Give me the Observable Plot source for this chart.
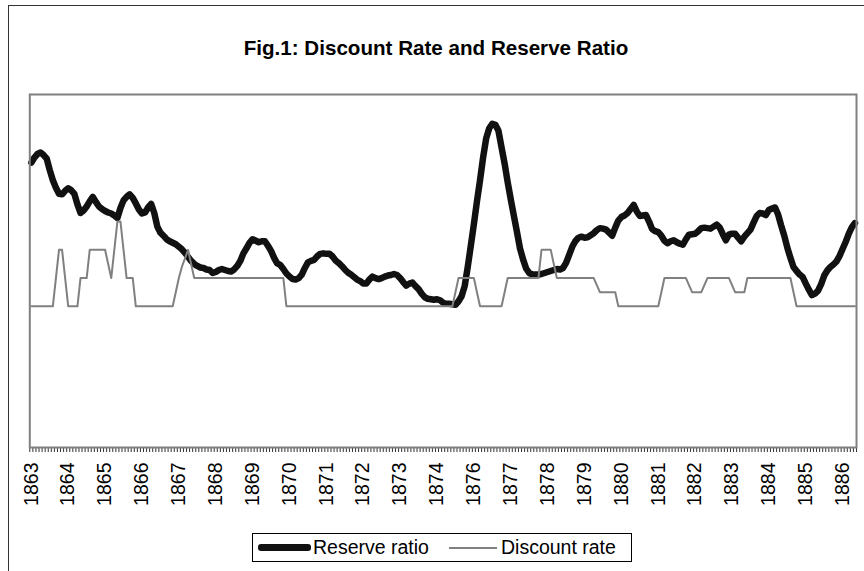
<!DOCTYPE html>
<html>
<head>
<meta charset="utf-8">
<script src="https://cdn.jsdelivr.net/npm/d3@7"></script>
<script src="https://cdn.jsdelivr.net/npm/@observablehq/plot@0.6"></script>
<style>
  html, body { margin: 0; padding: 0; background: #fff; }
  #page { position: relative; width: 864px; height: 571px; overflow: hidden; font-family: "Liberation Sans", Arial, sans-serif; }
  #outer { position: absolute; left: 8px; top: 5px; width: 900px; height: 620px; border: 1px solid #333; box-sizing: border-box; }
  #title { position: absolute; left: 8px; width: 856px; top: 38px; text-align: center; font-weight: bold; font-size: 20.6px; line-height: 20px; color: #000; }
  .layer { position: absolute; left: 0; top: 0; }
  #legend { position: absolute; left: 252px; top: 533px; width: 380px; height: 29px; border: 1px solid #000; box-sizing: border-box; background: #fff; font-size: 19.5px; color: #000; }
  #legend .txt { position: absolute; top: 0; line-height: 27px; white-space: nowrap; }
</style>
</head>
<body>
<div id="page">
  <div id="outer"></div>
  <div id="title">Fig.1: Discount Rate and Reserve Ratio</div>
  <div id="main" class="layer"></div>
  <div id="over" class="layer"></div>
  <div id="legend">
    <div style="position:absolute;left:5px;top:10px;width:53px;height:6.5px;background:#111;border-radius:3px;"></div>
    <div class="txt" style="left:60px;">Reserve ratio</div>
    <div style="position:absolute;left:196px;top:12.5px;width:48px;height:2px;background:#808080;"></div>
    <div class="txt" style="left:248px;">Discount rate</div>
  </div>
</div>
<script>
const yearLabels = ["1863","1864","1865","1866","1867","1868","1869","1870","1871","1872","1873","1874",
  "1876","1877","1878","1879","1880","1881","1882","1883","1884","1885","1886"];
const yearTickIndex = [0,12,24,36,48,60,72,84,96,108,120,132,144,156,168,180,192,204,216,228,240,252,264];

// Reserve ratio (%)
const reserveRatio = [
  56.5,57.5,58.2,58.5,58.0,57.3,55.0,53.0,51.5,50.3,
  50.2,50.9,51.4,51.0,50.3,48.2,46.5,47.0,47.8,48.8,
  49.7,48.7,47.8,47.3,46.9,46.6,46.4,46.0,45.5,47.5,
  49.0,49.7,50.2,49.5,48.4,47.2,46.4,46.6,47.6,48.3,
  46.5,43.8,42.6,42.0,41.3,40.9,40.6,40.3,39.8,39.3,
  38.6,37.8,37.0,36.4,36.0,35.7,35.6,35.3,35.2,34.6,
  34.8,35.2,35.4,35.2,35.0,34.9,35.3,36.0,37.0,38.5,
  39.5,40.6,41.3,41.0,40.7,40.9,40.9,40.0,39.0,37.6,
  36.5,36.2,35.4,34.5,33.9,33.4,33.3,33.6,34.3,35.6,
  36.7,37.0,37.2,37.9,38.4,38.5,38.4,38.4,37.9,37.1,
  36.6,36.0,35.3,34.7,34.3,33.8,33.3,33.0,32.5,32.5,
  33.3,33.9,33.6,33.4,33.6,33.9,34.1,34.2,34.4,34.2,
  33.6,32.8,32.1,32.5,32.7,32.0,31.4,30.5,29.8,29.5,
  29.4,29.3,29.4,29.2,28.7,28.5,28.5,28.4,28.3,29.0,
  30.0,32.0,35.8,40.0,44.3,48.8,53.0,57.5,61.3,63.3,
  64.2,64.0,62.8,59.5,56.3,52.6,49.2,46.0,42.8,39.5,
  37.3,35.5,34.6,34.3,34.3,34.3,34.4,34.6,34.8,35.0,
  35.2,35.4,35.3,35.6,36.6,38.2,39.8,40.9,41.6,41.8,
  41.6,41.7,42.1,42.5,43.1,43.5,43.4,43.2,42.6,42.0,
  43.6,45.0,45.7,46.0,46.5,47.3,48.1,46.8,45.9,46.0,
  46.1,44.8,43.3,42.9,42.7,42.0,41.0,40.5,40.9,41.1,
  40.7,40.4,40.2,41.3,42.2,42.3,42.4,42.9,43.5,43.6,
  43.5,43.4,43.8,44.2,43.6,42.3,41.1,42.2,42.4,42.4,
  41.6,40.9,41.8,42.5,43.2,44.6,45.9,46.5,46.4,46.1,
  47.1,47.4,47.6,46.2,44.0,42.0,39.6,37.6,35.8,35.0,
  34.3,33.8,32.5,31.3,30.2,30.5,31.1,32.4,34.1,35.1,
  35.8,36.3,36.9,38.0,39.4,40.8,42.4,43.7,44.5
];

// Discount rate (%)
const discountRate = [
  2.5,2.5,2.5,2.5,2.5,2.5,2.5,2.5,3,3.5,
  3.5,3,2.5,2.5,2.5,2.5,3,3,3,3.5,
  3.5,3.5,3.5,3.5,3.5,3.25,3,3.5,4,4,
  3.5,3,3,3,2.5,2.5,2.5,2.5,2.5,2.5,
  2.5,2.5,2.5,2.5,2.5,2.5,2.5,2.75,3,3.2,
  3.35,3.5,3.25,3,3,3,3,3,3,3,
  3,3,3,3,3,3,3,3,3,3,
  3,3,3,3,3,3,3,3,3,3,
  3,3,3,2.5,2.5,2.5,2.5,2.5,2.5,2.5,
  2.5,2.5,2.5,2.5,2.5,2.5,2.5,2.5,2.5,2.5,
  2.5,2.5,2.5,2.5,2.5,2.5,2.5,2.5,2.5,2.5,
  2.5,2.5,2.5,2.5,2.5,2.5,2.5,2.5,2.5,2.5,
  2.5,2.5,2.5,2.5,2.5,2.5,2.5,2.5,2.5,2.5,
  2.5,2.5,2.5,2.5,2.5,2.5,2.5,2.5,2.75,3,
  3,3,3,3,3,2.75,2.5,2.5,2.5,2.5,
  2.5,2.5,2.5,2.5,2.75,3,3,3,3,3,
  3,3,3,3,3,3,3.5,3.5,3.5,3.5,
  3.25,3,3,3,3,3,3,3,3,3,
  3,3,3,3,2.875,2.75,2.75,2.75,2.75,2.75,
  2.75,2.5,2.5,2.5,2.5,2.5,2.5,2.5,2.5,2.5,
  2.5,2.5,2.5,2.5,2.5,2.75,3,3,3,3,
  3,3,3,3,2.875,2.75,2.75,2.75,2.75,2.875,
  3,3,3,3,3,3,3,3,2.875,2.75,
  2.75,2.75,2.75,3,3,3,3,3,3,3,
  3,3,3,3,3,3,3,3,2.75,2.5,
  2.5,2.5,2.5,2.5,2.5,2.5,2.5,2.5,2.5,2.5,
  2.5,2.5,2.5,2.5,2.5,2.5,2.5,2.5,2.5
];

// ---- layout ----
const W = 864, H = 520;
const M = {left: 29.3, right: 8, top: 94, bottom: 73};
const n = reserveRatio.length;
const xDomain = [-0.5, n - 0.5];
const rows = reserveRatio.map((v, i) => ({i, reserve: v, rate: discountRate[i]}));
const boundaries = d3.range(n + 1).map(k => k - 0.5);
const labelAt = new Map(yearTickIndex.map((k, j) => [k, yearLabels[j]]));
const font = '"Liberation Sans", Arial, sans-serif';

const main = Plot.plot({
  width: W, height: H,
  marginLeft: M.left, marginRight: M.right, marginTop: M.top, marginBottom: M.bottom,
  style: {fontFamily: font, background: "transparent", overflow: "visible"},
  x: {domain: xDomain, label: null},
  y: {domain: [0, 70], axis: null},
  marks: [
    Plot.axisX(boundaries, {tickSize: 5, tickFormat: () => "", stroke: "#333", strokeWidth: 1, label: null}),
    Plot.axisX(yearTickIndex, {tickSize: 0, tickPadding: 15, tickRotate: -90, tickFormat: d => labelAt.get(d),
      fontSize: 19.5, fill: "#000", label: null}),
    Plot.line(rows, {x: "i", y: "reserve", stroke: "#111", strokeWidth: 6.5, strokeLinejoin: "round", strokeLinecap: "round"}),
    Plot.frame({stroke: "#808080", strokeWidth: 2})
  ]
});
document.getElementById("main").appendChild(main);

const over = Plot.plot({
  width: W, height: H,
  marginLeft: M.left, marginRight: M.right, marginTop: M.top, marginBottom: M.bottom,
  style: {fontFamily: font, background: "transparent"},
  x: {domain: xDomain, axis: null},
  y: {domain: [0, 6.25], axis: null},
  marks: [
    Plot.line(rows, {x: "i", y: "rate", stroke: "#808080", strokeWidth: 2})
  ]
});
document.getElementById("over").appendChild(over);
</script>
</body>
</html>
